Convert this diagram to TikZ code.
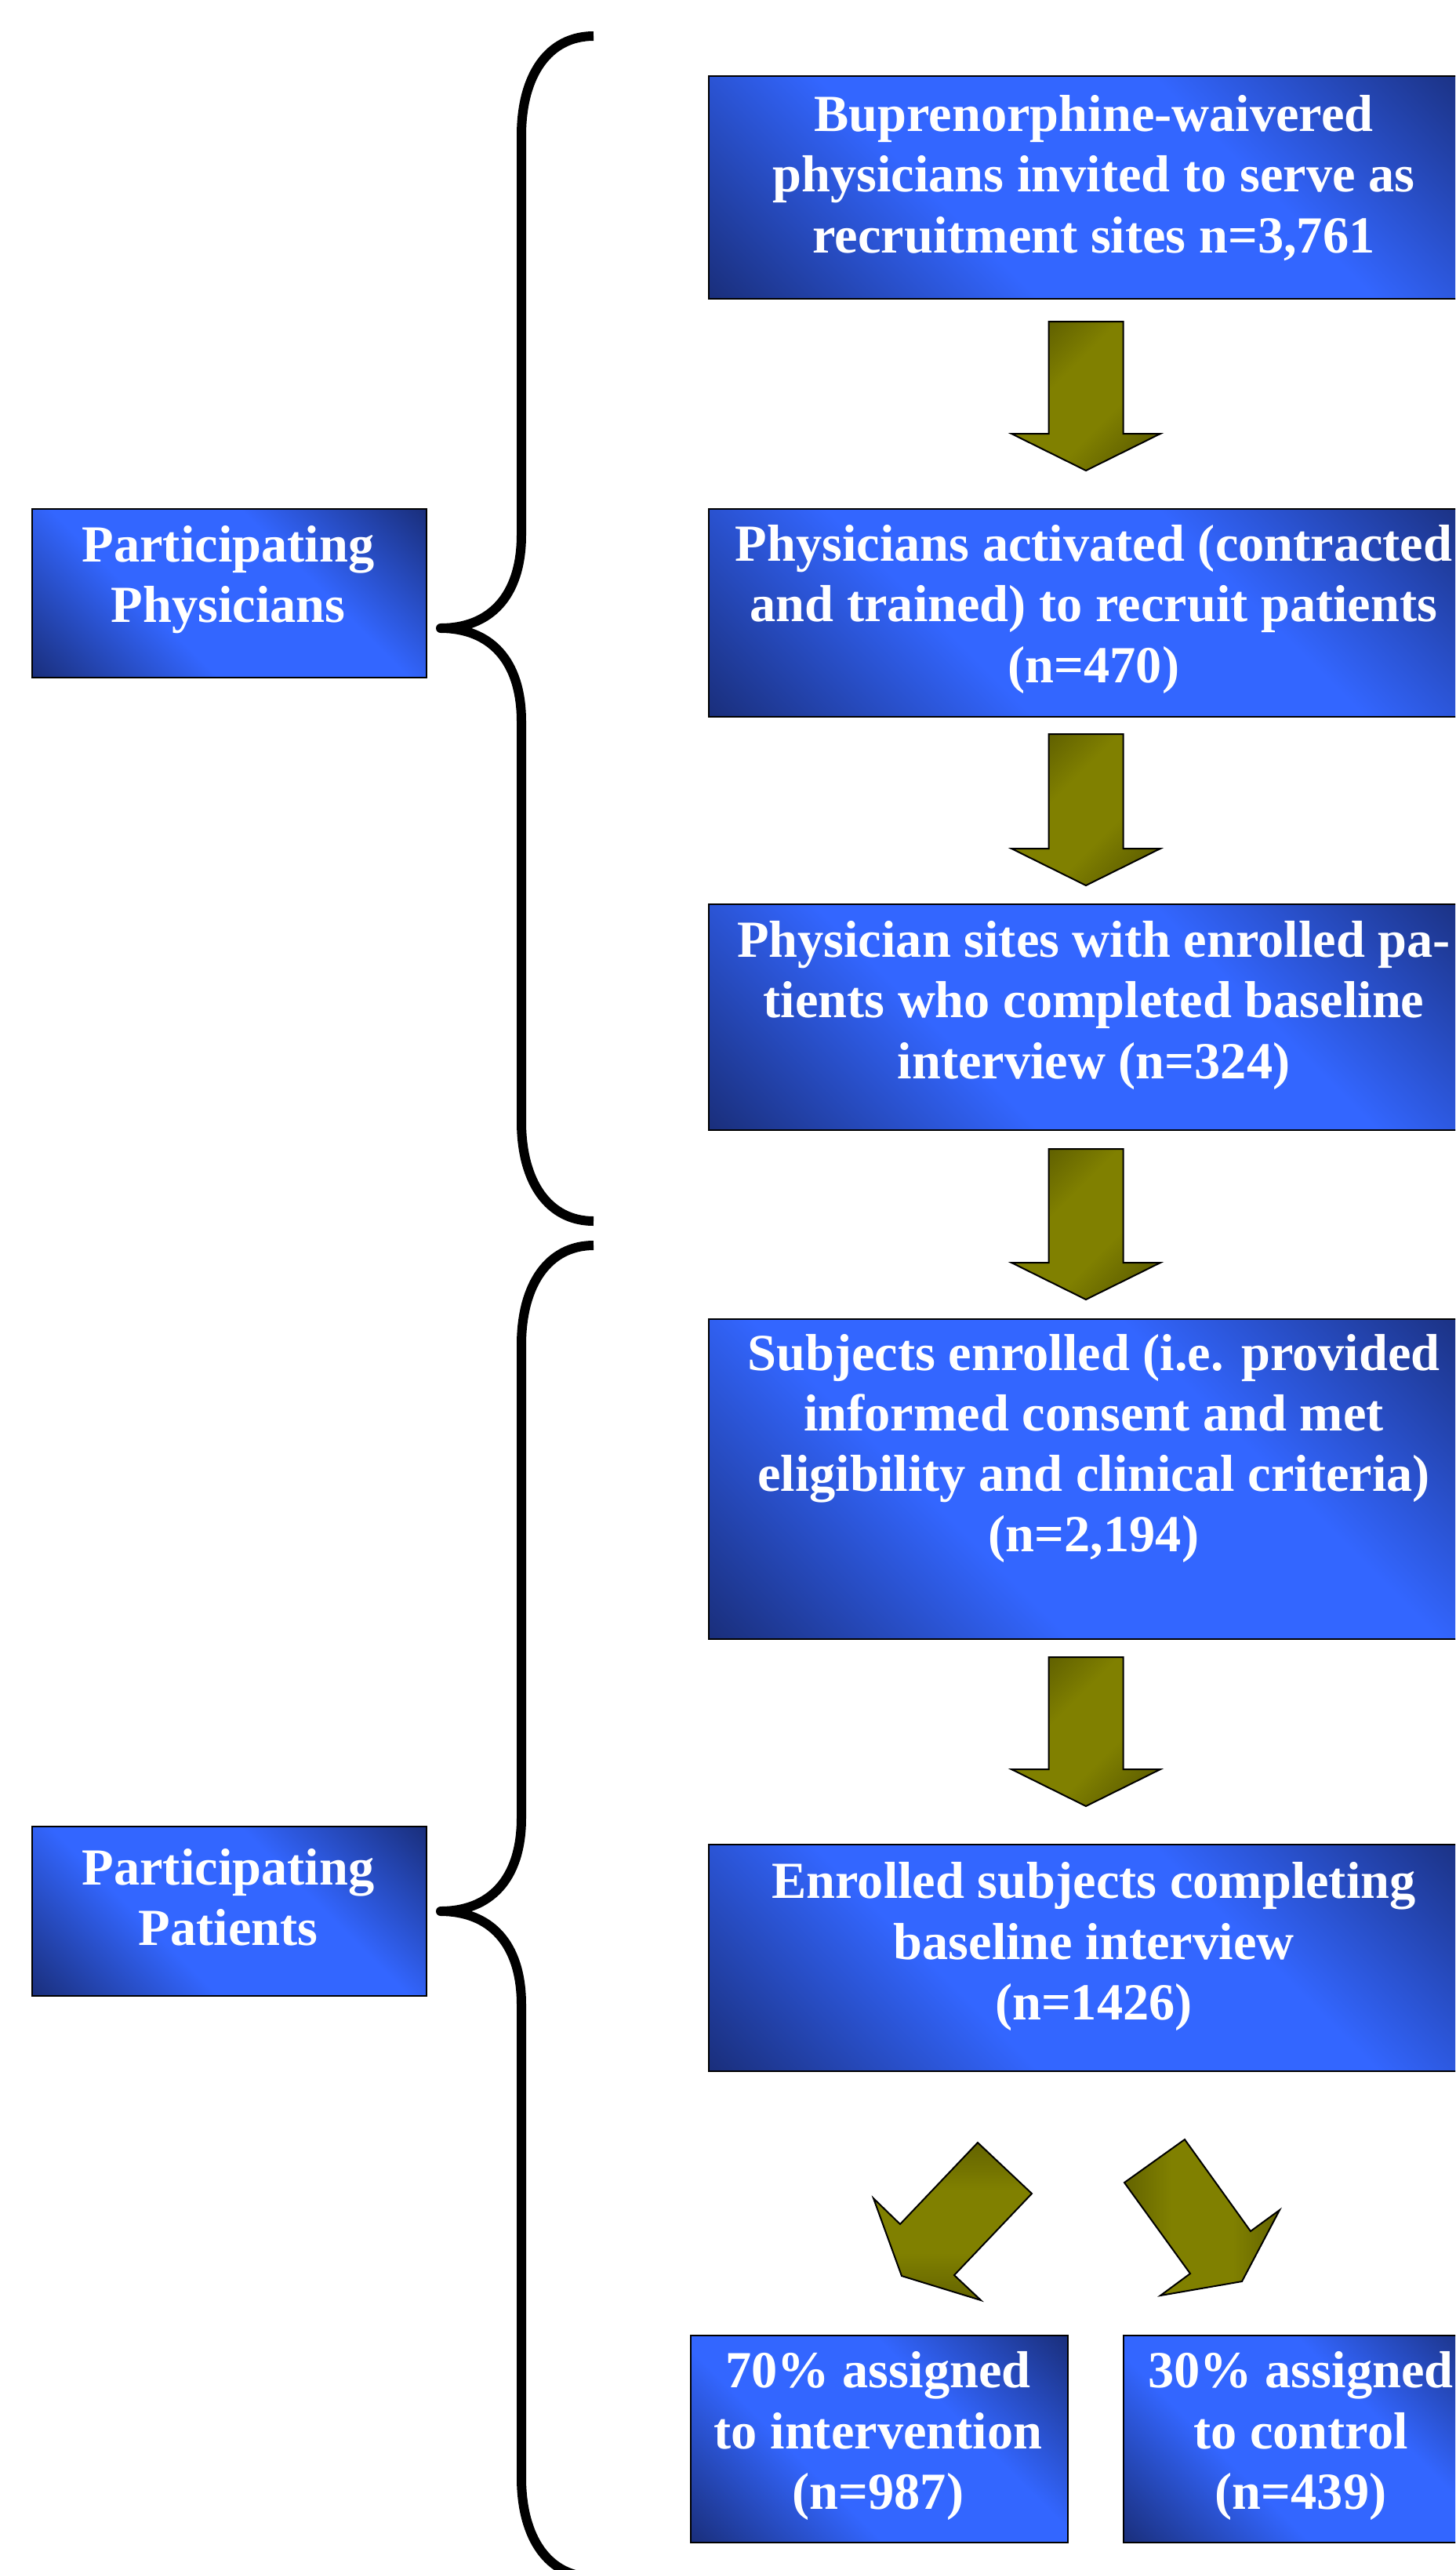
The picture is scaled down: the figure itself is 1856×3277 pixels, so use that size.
\documentclass[tikz,border=0pt]{standalone}
\usepackage{fontspec}
\setmainfont{Liberation Serif}
\usetikzlibrary{calc}
\definecolor{boxbright}{RGB}{51,102,255}
\definecolor{boxdark}{RGB}{25,45,120}
\definecolor{arrbright}{RGB}{128,128,0}
\definecolor{arrdark}{RGB}{86,86,0}
\pgfdeclareverticalshading{boxshade}{100bp}{color(0bp)=(boxdark); color(14bp)=(boxdark); color(38bp)=(boxbright); color(62bp)=(boxbright); color(86bp)=(boxdark); color(100bp)=(boxdark)}
\pgfdeclareverticalshading{arrshade}{100bp}{color(0bp)=(arrdark); color(18bp)=(arrdark); color(40bp)=(arrbright); color(60bp)=(arrbright); color(82bp)=(arrdark); color(100bp)=(arrdark)}
\begin{document}
\begin{tikzpicture}[x=0.25pt,y=-0.25pt,
  box/.style={draw=black, line width=0.6pt, shading=boxshade, shading angle=-45, inner sep=0pt, anchor=north west},
  txt/.style={text=white, font=\fontsize{16.6}{19.3}\selectfont\bfseries, align=center, inner sep=0pt},
  blk/.style={draw=black, line width=0.5pt, line join=miter, shading=arrshade},
  brace/.style={draw=black, line width=3pt, line join=round}]
\useasboundingbox (0,0) rectangle (1856,3277);
\clip (0,0) rectangle (1856,3277);
\fill[white] (0,0) rectangle (1856,3277);

% main boxes
\node[box, minimum width=246.75pt, minimum height=71pt] (b1) at (903,96) {};
\node[txt] (t1) at (1395,227) {Buprenorphine-waivered\\physicians invited to serve as\\recruitment sites n=3,761};
\node[box, minimum width=246.75pt, minimum height=66.25pt] (b2) at (903,648) {};
\node[txt] (t2) at (1395,777) {Physicians activated (contracted\\and trained) to recruit patients\\(n=470)};
\node[box, minimum width=246.75pt, minimum height=72pt] (b3) at (903,1152) {};
\node[txt] (t3) at (1395,1282) {Physician sites with enrolled pa-\\tients who completed baseline\\interview (n=324)};
\node[box, minimum width=246.75pt, minimum height=102pt] (b4) at (903,1681) {};
\node[txt] (t4) at (1395,1847) {Subjects enrolled (i.e. provided\\informed consent and met\\eligibility and clinical criteria)\\(n=2,194)};
\node[box, minimum width=246.75pt, minimum height=72.25pt] (b5) at (903,2351) {};
\node[txt] (t5) at (1395,2482) {Enrolled subjects completing\\baseline interview\\(n=1426)};
\node[box, minimum width=120.25pt, minimum height=66pt] (b6) at (880,2977) {};
\node[txt] (t6) at (1120,3106) {70\% assigned\\to intervention\\(n=987)};
\node[box, minimum width=114.5pt, minimum height=66pt] (b7) at (1432,2977) {};
\node[txt] (t7) at (1659,3106) {30\% assigned\\to control\\(n=439)};

% left boxes
\node[box, minimum width=125.75pt, minimum height=53.75pt] (l1) at (40,648) {};
\node[txt] (tl1) at (291,739) {Participating\\Physicians};
\node[box, minimum width=125.75pt, minimum height=54pt] (l2) at (40,2328) {};
\node[txt] (tl2) at (291,2419) {Participating\\Patients};

% straight block arrows
\draw[blk, shading angle=45] (1337.5,410) -- (1432.5,410) -- (1432.5,553) -- (1480,553) -- (1385,600) -- (1290,553) -- (1337.5,553) -- cycle;
\draw[blk, shading angle=45] (1337.5,936) -- (1432.5,936) -- (1432.5,1082) -- (1480,1082) -- (1385,1129) -- (1290,1082) -- (1337.5,1082) -- cycle;
\draw[blk, shading angle=45] (1337.5,1465) -- (1432.5,1465) -- (1432.5,1610) -- (1480,1610) -- (1385,1657) -- (1290,1610) -- (1337.5,1610) -- cycle;
\draw[blk, shading angle=45] (1337.5,2113) -- (1432.5,2113) -- (1432.5,2256) -- (1480,2256) -- (1385,2303) -- (1290,2256) -- (1337.5,2256) -- cycle;

% diagonal block arrows
\draw[blk, shading angle=0] (1247,2732) -- (1316,2797) -- (1217,2901) -- (1251,2933) -- (1150,2902) -- (1114,2803) -- (1148,2836) -- cycle;
\draw[blk, shading angle=90] (1511,2728) -- (1595,2845) -- (1632,2818) -- (1584,2909) -- (1480,2927) -- (1518,2899) -- (1434,2783) -- cycle;

% braces
\draw[brace] (757,46) .. controls (700,46) and (665,95) .. (665,173) -- (665,682)
  .. controls (665,760) and (625,801) .. (562,801)
  .. controls (625,801) and (665,842) .. (665,920) -- (665,1430)
  .. controls (665,1508) and (700,1557) .. (757,1557);
\draw[brace] (757,1588) .. controls (700,1588) and (665,1637) .. (665,1715) -- (665,2318)
  .. controls (665,2396) and (625,2437) .. (562,2437)
  .. controls (625,2437) and (665,2478) .. (665,2556) -- (665,3159)
  .. controls (665,3237) and (700,3286) .. (757,3286);
\end{tikzpicture}
\end{document}
